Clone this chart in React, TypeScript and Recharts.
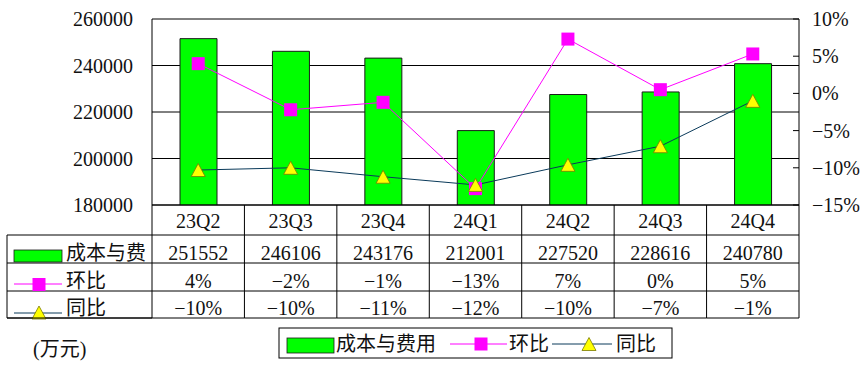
import React from 'react';
import { ComposedChart, Bar, Line, XAxis, YAxis, CartesianGrid, ReferenceLine } from 'recharts';

const categories = ['23Q2', '23Q3', '23Q4', '24Q1', '24Q2', '24Q3', '24Q4'];
const costValues = [251552, 246106, 243176, 212001, 227520, 228616, 240780];
const qoqValues = [4.0, -2.2, -1.2, -12.8, 7.3, 0.5, 5.3];
const yoyValues = [-10.3, -10.0, -11.2, -12.3, -9.6, -7.1, -1.0];
const costLabels = ['251552', '246106', '243176', '212001', '227520', '228616', '240780'];
const qoqLabels = ['4%', '−2%', '−1%', '−13%', '7%', '0%', '5%'];
const yoyLabels = ['−10%', '−10%', '−11%', '−12%', '−10%', '−7%', '−1%'];
const leftTicks = [180000, 200000, 220000, 240000, 260000];
const rightTicks = [-15, -10, -5, 0, 5, 10];

const seriesNames = { cost: '成本与费用', costShort: '成本与费', qoq: '环比', yoy: '同比' };

const data = categories.map((c, i) => ({
  name: c,
  cost: costValues[i],
  qoq: qoqValues[i],
  yoy: yoyValues[i],
}));

const W = 862;
const H = 376;
const PLOT_LEFT = 152;
const PLOT_RIGHT = 799;
const PLOT_TOP = 19;
const PLOT_BOTTOM = 205;
const COL_W = (PLOT_RIGHT - PLOT_LEFT) / categories.length;
const ROW_LINES = [235, 263, 291, 318];
const ROW_CENTERS = [221, 253, 281, 308];
const TABLE_LEFT = 7;

const FONT = "Liberation Serif, DejaVu Serif, Noto Sans CJK SC, serif";
const FS = 20;
const GREEN = '#00FF00';
const MAGENTA = '#FF00FF';
const NAVY = '#0A3A5A';
const YELLOW = '#FFFF00';

const Square = ({ cx, cy, s = 13 }: { cx: number; cy: number; s?: number }) => (
  <rect x={cx - s / 2} y={cy - s / 2} width={s} height={s} fill={MAGENTA} />
);

const Tri = ({ cx, cy, w = 14, h = 13 }: { cx: number; cy: number; w?: number; h?: number }) => (
  <polygon
    points={`${cx},${cy - h / 2} ${cx + w / 2},${cy + h / 2} ${cx - w / 2},${cy + h / 2}`}
    fill={YELLOW}
    stroke="#7a7a00"
    strokeWidth={0.8}
  />
);

const T = (props: any) => (
  <text
    dominantBaseline="central"
    fontSize={FS}
    fill="#111"
    style={{ fontFamily: FONT }}
    {...props}
  />
);

const TableTick = (props: any) => {
  const { x, payload } = props;
  const i = payload.index;
  const l = x - COL_W / 2;
  const r = x + COL_W / 2;
  return (
    <g>
      {i === 0 && <line x1={l} x2={l} y1={PLOT_BOTTOM} y2={ROW_LINES[3]} stroke="#000" />}
      <line x1={r} x2={r} y1={PLOT_BOTTOM} y2={ROW_LINES[3]} stroke="#000" />
      {ROW_LINES.map((y) => (
        <line key={y} x1={l} x2={r} y1={y} y2={y} stroke="#000" />
      ))}
      <T x={x} y={ROW_CENTERS[0]} textAnchor="middle">{categories[i]}</T>
      <T x={x} y={ROW_CENTERS[1]} textAnchor="middle">{costLabels[i]}</T>
      <T x={x} y={ROW_CENTERS[2]} textAnchor="middle">{qoqLabels[i]}</T>
      <T x={x} y={ROW_CENTERS[3]} textAnchor="middle">{yoyLabels[i]}</T>
    </g>
  );
};

const LeftTick = (props: any) => {
  const { x, y, payload } = props;
  return (
    <T x={x} y={y} textAnchor="end">{String(payload.value)}</T>
  );
};

const RightTick = (props: any) => {
  const { x, y, payload } = props;
  const axisX = PLOT_RIGHT;
  return (
    <g>
      <line x1={axisX - 6} x2={axisX} y1={y} y2={y} stroke="#000" />
      <T x={x} y={y} textAnchor="start">
        {`${payload.value < 0 ? '−' : ''}${Math.abs(payload.value)}%`}
      </T>
    </g>
  );
};

export default function App() {
  return (
    <div style={{ position: 'absolute', left: 0, top: 0, width: W, height: H, background: '#fff' }}>
      <ComposedChart
        width={W}
        height={H}
        data={data}
        margin={{ top: PLOT_TOP, right: 0, left: 0, bottom: 0 }}
      >
        <CartesianGrid yAxisId="left" vertical={false} stroke="#000" strokeWidth={1} />
        <XAxis
          dataKey="name"
          xAxisId={0}
          height={H - PLOT_BOTTOM}
          interval={0}
          tickLine={false}
          tickSize={0}
          tickMargin={0}
          axisLine={{ stroke: '#000' }}
          tick={<TableTick />}
        />
        <YAxis
          yAxisId="left"
          orientation="left"
          width={PLOT_LEFT}
          domain={[180000, 260000]}
          ticks={leftTicks}
          allowDataOverflow
          tickLine={false}
          tickSize={0}
          tickMargin={19}
          axisLine={{ stroke: '#000' }}
          tick={<LeftTick />}
        />
        <YAxis
          yAxisId="right"
          orientation="right"
          width={W - PLOT_RIGHT}
          domain={[-15, 10]}
          ticks={rightTicks}
          allowDataOverflow
          tickLine={false}
          tickSize={0}
          tickMargin={13}
          axisLine={{ stroke: '#000' }}
          tick={<RightTick />}
        />
        <ReferenceLine yAxisId="left" y={260000} stroke="#808080" />
        <Bar
          yAxisId="left"
          dataKey="cost"
          name={seriesNames.cost}
          barSize={37}
          fill={GREEN}
          stroke="#1a1a1a"
          strokeWidth={1}
          isAnimationActive={false}
        />
        <Line
          yAxisId="right"
          dataKey="qoq"
          name={seriesNames.qoq}
          type="linear"
          stroke={MAGENTA}
          strokeWidth={1}
          isAnimationActive={false}
          dot={(p: any) => <Square key={`q${p.index}`} cx={p.cx} cy={p.cy} />}
          activeDot={false}
        />
        <Line
          yAxisId="right"
          dataKey="yoy"
          name={seriesNames.yoy}
          type="linear"
          stroke={NAVY}
          strokeWidth={1}
          isAnimationActive={false}
          dot={(p: any) => <Tri key={`y${p.index}`} cx={p.cx} cy={p.cy} />}
          activeDot={false}
        />
      </ComposedChart>
      <svg
        width={W}
        height={H}
        style={{ position: 'absolute', left: 0, top: 0, pointerEvents: 'none' }}
      >
        {ROW_LINES.map((y) => (
          <line key={y} x1={TABLE_LEFT} x2={PLOT_LEFT} y1={y} y2={y} stroke="#000" />
        ))}
        <line x1={TABLE_LEFT} x2={TABLE_LEFT} y1={ROW_LINES[0]} y2={ROW_LINES[3]} stroke="#000" />
        <rect x={14} y={250} width={48} height={12} fill={GREEN} stroke="#1a1a1a" strokeWidth={0.8} />
        <T x={66} y={ROW_CENTERS[1]}>{seriesNames.costShort}</T>
        <line x1={14} x2={62} y1={284} y2={284} stroke={MAGENTA} />
        <Square cx={39} cy={284.5} />
        <T x={66} y={ROW_CENTERS[2]}>{seriesNames.qoq}</T>
        <line x1={14} x2={62} y1={313} y2={313} stroke={NAVY} />
        <Tri cx={39} cy={312.5} />
        <line x1={TABLE_LEFT} x2={PLOT_LEFT} y1={ROW_LINES[3]} y2={ROW_LINES[3]} stroke="#000" />
        <T x={66} y={ROW_CENTERS[3]}>{seriesNames.yoy}</T>

        <T x={33} y={349}>(万元)</T>

        <rect x={279} y={328} width={393} height={30} fill="#fff" stroke="#000" />
        <rect x={287} y={338} width={47} height={15} fill={GREEN} stroke="#1a1a1a" strokeWidth={0.8} />
        <T x={336} y={344}>{seriesNames.cost}</T>
        <line x1={450} x2={507} y1={344} y2={344} stroke={MAGENTA} />
        <Square cx={481} cy={344} />
        <T x={509} y={344}>{seriesNames.qoq}</T>
        <line x1={552} x2={612} y1={344} y2={344} stroke={NAVY} />
        <Tri cx={589} cy={344} />
        <T x={616} y={344}>{seriesNames.yoy}</T>
      </svg>
    </div>
  );
}
